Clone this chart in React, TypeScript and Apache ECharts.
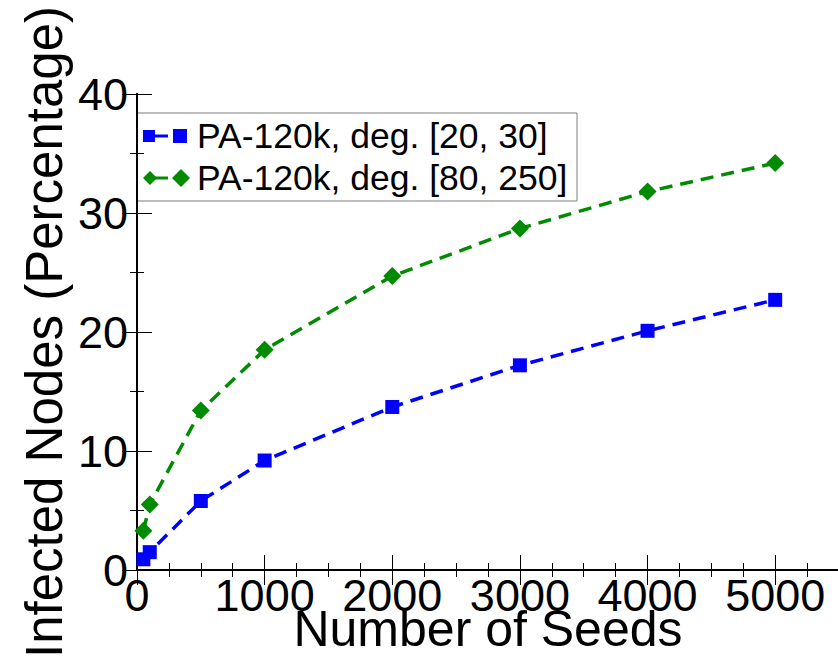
import React, { useEffect, useRef } from "react";
import * as echarts from "echarts";

const seeds = [50, 100, 500, 1000, 2000, 3000, 4000, 5000];
const lowDeg = [0.9, 1.5, 5.8, 9.2, 13.7, 17.2, 20.1, 22.7];
const highDeg = [3.3, 5.5, 13.4, 18.5, 24.7, 28.7, 31.8, 34.2];
const seriesNames = ["PA-120k, deg. [20, 30]", "PA-120k, deg. [80, 250]"];
const xTitle = "Number of Seeds";
const yTitle = "Infected Nodes (Percentage)";

const FONT = "Liberation Sans, Arial, Helvetica, sans-serif";
const BLUE = "#0000ff";
const GREEN = "#008b00";

export default function App() {
  const ref = useRef<HTMLDivElement>(null);
  useEffect(() => {
    if (!ref.current) return;
    const chart = echarts.init(ref.current, null, { renderer: "svg" });
    const axisLine = { show: true, lineStyle: { color: "#000", width: 2 } };
    const tick = { show: true, inside: true, length: 15, lineStyle: { color: "#000", width: 1 } };
    const option: any = {
      animation: false,
      backgroundColor: "#fff",
      grid: { left: 137, top: 94, right: 11, bottom: 90, containLabel: false, outerBoundsMode: "none" },
      xAxis: [
        {
          type: "value",
          min: 0,
          max: 5500,
          interval: 1000,
          axisLine,
          axisTick: tick,
          minorTick: { show: true, splitNumber: 4, length: 7, lineStyle: { color: "#000", width: 1 } },
          splitLine: { show: false },
          axisLabel: {
            color: "#000",
            fontSize: 45,
            lineHeight: 32,
            fontFamily: FONT,
            margin: 9,
            showMaxLabel: false,
            formatter: (v: number) => String(v),
          },
          name: xTitle,
          nameLocation: "middle",
          nameGap: 42,
          nameMoveOverlap: false,
          nameTextStyle: { color: "#000", fontSize: 50, lineHeight: 34, fontFamily: FONT, verticalAlign: "top" },
        },
        {
          type: "value",
          position: "top",
          min: 0,
          max: 5500,
          interval: 1000,
          axisLine,
          axisTick: tick,
          minorTick: { show: true, splitNumber: 4, length: 7, lineStyle: { color: "#000", width: 1 } },
          splitLine: { show: false },
          axisLabel: { show: false },
        },
      ],
      yAxis: [
        {
          type: "value",
          min: 0,
          max: 40,
          interval: 10,
          axisLine,
          axisTick: tick,
          minorTick: { show: true, splitNumber: 2, length: 7, lineStyle: { color: "#000", width: 1 } },
          splitLine: { show: false },
          axisLabel: { color: "#000", fontSize: 45, fontFamily: FONT, margin: 9 },
          name: yTitle,
          nameLocation: "middle",
          nameGap: 67,
          nameMoveOverlap: false,
          nameTextStyle: { color: "#000", fontSize: 51, fontFamily: FONT },
        },
        {
          type: "value",
          position: "right",
          min: 0,
          max: 40,
          interval: 10,
          axisLine,
          axisTick: tick,
          minorTick: { show: true, splitNumber: 2, length: 7, lineStyle: { color: "#000", width: 1 } },
          splitLine: { show: false },
          axisLabel: { show: false },
        },
      ],
      series: [
        {
          name: seriesNames[0],
          type: "line",
          data: seeds.map((s, i) => [s, lowDeg[i]]),
          symbol: "rect",
          symbolSize: 14,
          itemStyle: { color: BLUE },
          lineStyle: { color: BLUE, width: 3.5, type: [13, 8] },
          z: 3,
        },
        {
          name: seriesNames[1],
          type: "line",
          data: seeds.map((s, i) => [s, highDeg[i]]),
          symbol: "diamond",
          symbolSize: 18,
          itemStyle: { color: GREEN },
          lineStyle: { color: GREEN, width: 3.5, type: [13, 8] },
          z: 3,
        },
      ],
      graphic: [
        {
          type: "group",
          z: 100,
          children: [
            {
              type: "rect",
              shape: { x: 137, y: 113, width: 440, height: 88 },
              style: { fill: "#fff", stroke: "#7f7f7f", lineWidth: 1 },
            },
            { type: "rect", shape: { x: 143, y: 130, width: 12, height: 12 }, style: { fill: BLUE } },
            { type: "line", shape: { x1: 155, y1: 136, x2: 168, y2: 136 }, style: { stroke: BLUE, lineWidth: 3 } },
            { type: "rect", shape: { x: 173, y: 129, width: 14, height: 14 }, style: { fill: BLUE } },
            {
              type: "text",
              x: 197,
              y: 136,
              style: { text: seriesNames[0], fontSize: 35.5, fontFamily: FONT, fill: "#000", verticalAlign: "middle", align: "left" },
            },
            {
              type: "polygon",
              shape: { points: [[143, 178], [150, 171], [157, 178], [150, 185]] },
              style: { fill: GREEN },
            },
            { type: "line", shape: { x1: 155, y1: 178, x2: 168, y2: 178 }, style: { stroke: GREEN, lineWidth: 3 } },
            {
              type: "polygon",
              shape: { points: [[172, 178], [181, 169], [190, 178], [181, 187]] },
              style: { fill: GREEN },
            },
            {
              type: "text",
              x: 197,
              y: 178,
              style: { text: seriesNames[1], fontSize: 35.5, fontFamily: FONT, fill: "#000", verticalAlign: "middle", align: "left" },
            },
          ],
        },
      ],
    };
    chart.setOption(option);
    return () => chart.dispose();
  }, []);
  return (
    <div style={{ position: "fixed", left: 0, top: 0, width: 838, height: 660, overflow: "hidden", background: "#fff" }}>
      <div ref={ref} style={{ width: 850, height: 660 }} />
    </div>
  );
}
